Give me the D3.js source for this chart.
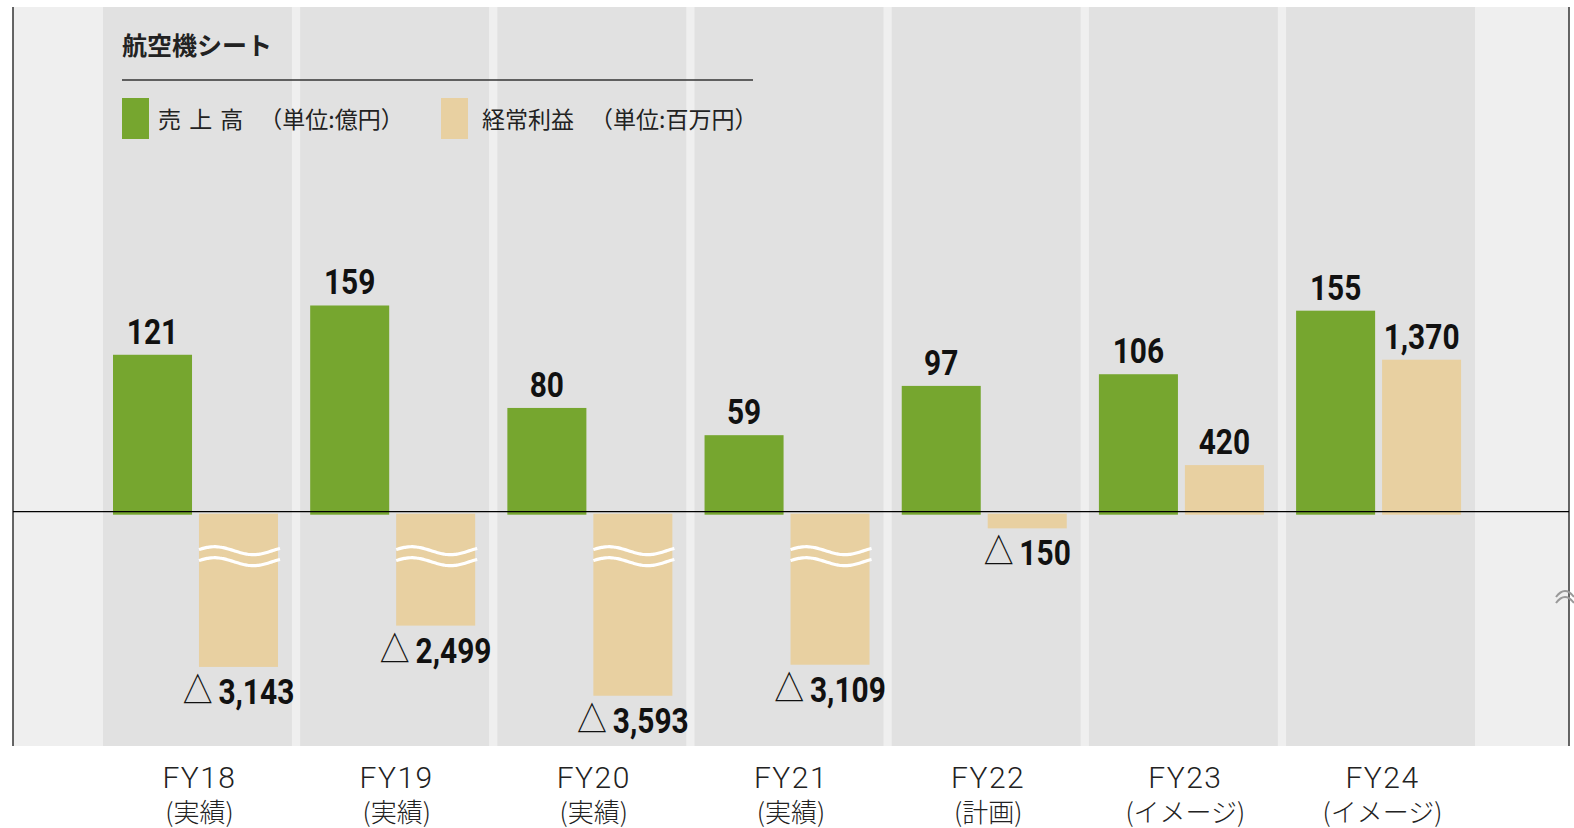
<!DOCTYPE html>
<html>
<head>
<meta charset="utf-8">
<script src="https://cdn.jsdelivr.net/npm/d3@7"></script>
<style>
  body { margin: 0; background: #fff; }
  svg { display: block; }
</style>
</head>
<body>
<svg></svg>
<script>
var width = 1574;
var height = 828;

// data
var years = ["FY18", "FY19", "FY20", "FY21", "FY22", "FY23", "FY24"];
var yearNotes = ["(実績)", "(実績)", "(実績)", "(実績)", "(計画)", "(イメージ)", "(イメージ)"];
var sales = [121, 159, 80, 59, 97, 106, 155];               // 億円
var profit = [-3143, -2499, -3593, -3109, -150, 420, 1370]; // 百万円
var seriesKeys = ["sales", "profit"];
var legendNames = ["売 上 高", "経常利益"];
var legendUnits = ["（単位:億円）", "（単位:百万円）"];
var title = "航空機シート";

var green = "#76a62f";
var beige = "#e8d0a1";
var numFont = "Roboto, 'Liberation Sans', sans-serif";
var jpFont = "'Noto Sans CJK JP', 'Noto Sans', sans-serif";
var squeeze = 0.83; // condensed look for the value labels

var plotTop = 7, plotBottom = 746, plotLeft = 13, plotRight = 1569;
var zeroY = 511.7;
var breakLimit = 1500;

var data = years.map(function(y, i) {
    return { year: y, note: yearNotes[i], sales: sales[i], profit: profit[i] };
});

var x = d3.scaleBand()
    .domain(years)
    .range([103, 1475])
    .paddingInner(0.042)
    .paddingOuter(0);

var xInner = d3.scaleBand()
    .domain(seriesKeys)
    .range([10, 175])
    .paddingInner(0.081);

// sales and profit have their own scales, sharing the zero line
var ySales = d3.scaleLinear().domain([0, 160]).range([zeroY, zeroY - 207.5]);
var yProfit = d3.scaleLinear().domain([0, 1370]).range([zeroY, zeroY - 152]);
// bars with a break mark are drawn compressed
var brokenLen = d3.scaleLinear().domain([722, 3600]).range([0, 184.5]);

var svg = d3.select("svg")
    .attr("width", width)
    .attr("height", height);

// background + year bands
svg.append("rect")
    .attr("x", plotLeft).attr("y", plotTop)
    .attr("width", plotRight - plotLeft).attr("height", plotBottom - plotTop)
    .attr("fill", "#efefef");

svg.selectAll("rect.band")
  .data(data)
  .enter()
  .append("rect")
    .attr("class", "band")
    .attr("x", d => x(d.year))
    .attr("y", plotTop)
    .attr("width", x.bandwidth())
    .attr("height", plotBottom - plotTop)
    .attr("fill", "#e1e1e1");

// frame lines
[plotLeft, plotRight].forEach(function(xx) {
    svg.append("line")
        .attr("x1", xx).attr("x2", xx)
        .attr("y1", plotTop).attr("y2", plotBottom)
        .attr("stroke", "#333").attr("stroke-width", 1.5);
});

var groups = svg.selectAll("g.year")
  .data(data)
  .enter()
  .append("g")
    .attr("class", "year")
    .attr("transform", d => "translate(" + x(d.year) + ",0)");

function valueText(sel, xf, yf) {
    return sel.append("text")
        .attr("transform", d => "translate(" + xf(d) + "," + yf(d) + ") scale(" + squeeze + ",1)")
        .attr("text-anchor", "middle")
        .style("font-family", numFont)
        .style("font-weight", "bold")
        .style("font-size", "36px")
        .style("fill", "#111");
}

// sales bars
groups.append("rect")
    .attr("x", xInner("sales"))
    .attr("y", d => ySales(d.sales))
    .attr("width", xInner.bandwidth())
    .attr("height", d => ySales(0) - ySales(d.sales) + 3)
    .attr("fill", green);

valueText(groups, d => xInner("sales") + xInner.bandwidth() / 2, d => ySales(d.sales) - 11)
    .text(d => d3.format(",")(d.sales));

// profit bars
function profitTop(d) {
    return d.profit >= 0 ? yProfit(d.profit) : zeroY + 2;
}
function profitBottom(d) {
    if (d.profit >= 0) return zeroY + 3;
    if (-d.profit > breakLimit) return zeroY + brokenLen(-d.profit);
    return yProfit(d.profit);
}

groups.append("rect")
    .attr("x", xInner("profit"))
    .attr("y", profitTop)
    .attr("width", xInner.bandwidth())
    .attr("height", d => profitBottom(d) - profitTop(d))
    .attr("fill", beige);

// break marks
var wave = d3.line().curve(d3.curveBasis);
function wavePath(y0) {
    var w = xInner.bandwidth() + 2;
    var pts = d3.range(0, 41).map(function(i) {
        var t = i / 40;
        return [xInner("profit") + t * w, y0 - 4 * Math.sin(t * 2 * Math.PI * 1.05 + 0.3)];
    });
    return wave(pts);
}
var broken = groups.filter(d => -d.profit > breakLimit);
[zeroY + 39, zeroY + 50].forEach(function(yy) {
    broken.append("path")
        .attr("d", wavePath(yy))
        .attr("fill", "none")
        .attr("stroke", "#fff")
        .attr("stroke-width", 3.2);
});

// profit labels
var profitLabel = valueText(groups,
    d => xInner("profit") + xInner.bandwidth() / 2,
    d => d.profit >= 0 ? profitTop(d) - 11 : profitBottom(d) + 37);

profitLabel.filter(d => d.profit < 0)
  .append("tspan")
    .style("font-family", jpFont)
    .style("font-weight", "normal")
    .style("font-size", "36px")
    .text("△");

profitLabel.append("tspan")
    .attr("dx", d => d.profit < 0 ? 7 : 0)
    .text(d => d3.format(",")(Math.abs(d.profit)));

// zero line
svg.append("line")
    .attr("x1", plotLeft).attr("x2", plotRight)
    .attr("y1", zeroY).attr("y2", zeroY)
    .attr("stroke", "#000").attr("stroke-width", 1.2);

// x labels, two lines each
svg.selectAll("text.xlab")
  .data(data)
  .enter()
  .append("text")
    .attr("class", "xlab")
    .attr("text-anchor", "middle")
    .attr("x", d => x(d.year) + x.bandwidth() / 2 + 2)
    .attr("y", 788)
    .style("fill", "#222")
    .style("font-family", "Roboto, 'Liberation Sans', sans-serif")
    .style("font-weight", 300)
    .style("font-size", "30px")
    .style("letter-spacing", "1.5px")
    .text(d => d.year);

svg.selectAll("text.xnote")
  .data(data)
  .enter()
  .append("text")
    .attr("class", "xnote")
    .attr("text-anchor", "middle")
    .attr("x", d => x(d.year) + x.bandwidth() / 2 + 2)
    .attr("y", 822)
    .style("fill", "#222")
    .style("font-family", jpFont)
    .style("font-weight", 300)
    .style("font-size", "26px")
    .text(d => d.note);

// title + legend
svg.append("text")
    .attr("x", 122)
    .attr("y", 55)
    .style("font-family", jpFont)
    .style("font-weight", "bold")
    .style("font-size", "25px")
    .style("fill", "#222")
    .text(title);

svg.append("line")
    .attr("x1", 122).attr("x2", 753)
    .attr("y1", 80).attr("y2", 80)
    .attr("stroke", "#333").attr("stroke-width", 1.5);

var legendX = [122, 441];
var legendColor = d3.scaleOrdinal().domain(seriesKeys).range([green, beige]);

var legend = svg.selectAll("g.legend")
  .data(seriesKeys)
  .enter()
  .append("g")
    .attr("class", "legend")
    .attr("transform", (d, i) => "translate(" + legendX[i] + ",98)");

legend.append("rect")
    .attr("width", 27)
    .attr("height", 41)
    .attr("fill", d => legendColor(d));

var legendText = legend.append("text")
    .attr("x", (d, i) => i === 0 ? 36 : 41)
    .attr("y", 30)
    .style("font-family", jpFont)
    .style("font-size", "23px")
    .style("fill", "#222");

legendText.append("tspan")
    .style("word-spacing", (d, i) => i === 0 ? "3px" : "0px")
    .text((d, i) => legendNames[i]);
legendText.append("tspan").attr("dx", 16).text((d, i) => legendUnits[i]);

// cut-off marker at the right edge
[0, 6].forEach(function(dy) {
    svg.append("path")
        .attr("d", "M1556," + (597 + dy) + " Q1565," + (585 + dy) + " 1574," + (597 + dy))
        .attr("fill", "none")
        .attr("stroke", "#999")
        .attr("stroke-width", 2);
});
</script>
</body>
</html>
